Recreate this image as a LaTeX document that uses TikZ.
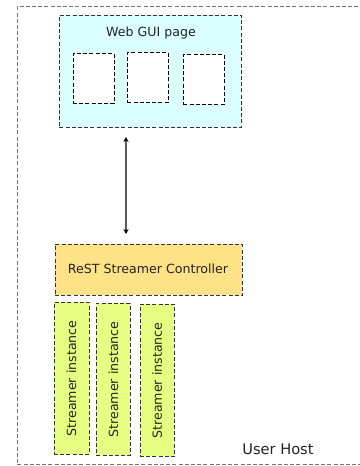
\documentclass[tikz,border=0pt]{standalone}
\usepackage{fontspec}
\setmainfont{DejaVu Sans}
\usetikzlibrary{arrows.meta}
\definecolor{guifill}{HTML}{DBFFFF}
\definecolor{restfill}{HTML}{FDE287}
\definecolor{strfill}{HTML}{E6FF82}
\definecolor{txt}{HTML}{222222}
\definecolor{edge}{HTML}{333333}
\tikzset{
  boxdash/.style={draw=edge, line width=0.9pt, dash pattern=on 4pt off 2.2pt, inner sep=0pt, anchor=north west},
  lbl/.style={text=txt, inner sep=0pt, font=\fontsize{12.6}{15}\selectfont},
}
\begin{document}
\begin{tikzpicture}[x=1pt,y=-1pt]
\useasboundingbox (0,0) rectangle (359,466);
% outer host box
\node[boxdash, draw=gray!90!black, minimum width=360pt, minimum height=458pt] (host) at (17,6) {};
\node[lbl, font=\fontsize{14.6}{17}\selectfont] (hostlbl) at (278,449) {User Host};
% Web GUI page
\node[boxdash, fill=guifill, minimum width=182pt, minimum height=112pt] (gui) at (59,15) {};
\node[lbl] (guilbl) at (151,33) {Web GUI page};
\node[boxdash, draw=black, fill=white, minimum width=41pt, minimum height=50pt] (w1) at (72.5,53) {};
\node[boxdash, draw=black, fill=white, minimum width=41pt, minimum height=50pt] (w2) at (127,52) {};
\node[boxdash, draw=black, fill=white, minimum width=41pt, minimum height=50pt] (w3) at (183,54) {};
% ReST controller
\node[boxdash, fill=restfill, minimum width=187.5pt, minimum height=51pt] (rest) at (54.5,244) {};
\node[lbl] (restlbl) at (148,269) {ReST Streamer Controller};
% arrow
\coordinate (a1) at (126,137);
\coordinate (a2) at (126,234);
\draw[draw=gray!70!black, line width=1.2pt, {Stealth[length=5pt,width=5pt,black]}-{Stealth[length=5pt,width=5pt,black]}] (a1) -- (a2);
% streamer instances
\node[boxdash, fill=strfill, minimum width=35pt, minimum height=152pt] (s1) at (53.5,302) {};
\node[boxdash, fill=strfill, minimum width=34pt, minimum height=152pt] (s2) at (96,303) {};
\node[boxdash, fill=strfill, minimum width=34.5pt, minimum height=152pt] (s3) at (139.5,304) {};
\node[lbl, rotate=90] (s1l) at (s1.center) {Streamer instance};
\node[lbl, rotate=90] (s2l) at (s2.center) {Streamer instance};
\node[lbl, rotate=90] (s3l) at (s3.center) {Streamer instance};
\end{tikzpicture}
\end{document}
